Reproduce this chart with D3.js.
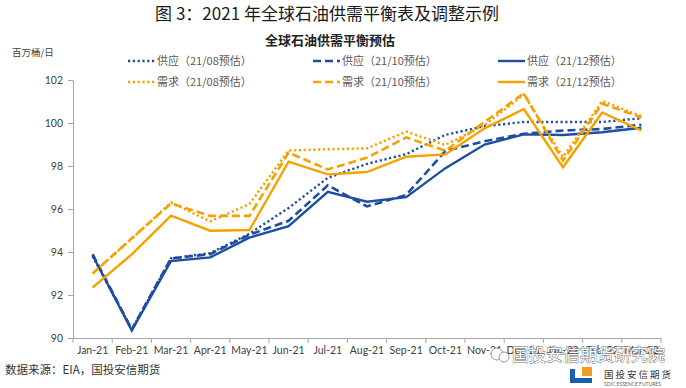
<!DOCTYPE html>
<html>
<head>
<meta charset="utf-8">
<script src="https://cdn.jsdelivr.net/npm/d3@7"></script>
<style>
  body { margin: 0; background: #fff; }
  svg { display: block; }
  .axis text { font-family: Lato, "Noto Sans CJK SC", sans-serif; font-size: 10.5px; fill: #404040; }
  .axis path, .axis line { stroke: #a6a6a6; }
</style>
</head>
<body>
<div id="chart"></div>
<script>
// categories and series (百万桶/日)
const months = ["Jan-21", "Feb-21", "Mar-21", "Apr-21", "May-21", "Jun-21", "Jul-21", "Aug-21",
    "Sep-21", "Oct-21", "Nov-21", "Dec-21", "Jan-22", "Feb-22", "Mar-22"];

const supply08 = [93.8, 90.4, 93.7, 93.95, 94.85, 96.05, 97.45, 98.1, 98.55, 99.45, 99.85, 100.05, 100.05, 100.05, 100.22];
const supply10 = [93.9, 90.4, 93.7, 93.9, 94.8, 95.45, 97.1, 96.12, 96.65, 98.7, 99.15, 99.5, 99.65, 99.72, 99.92];
const supply12 = [93.85, 90.35, 93.58, 93.75, 94.67, 95.2, 96.8, 96.34, 96.55, 97.9, 99.0, 99.47, 99.44, 99.57, 99.78];
const demand08 = [93.0, 94.62, 96.3, 95.42, 96.23, 98.72, 98.78, 98.82, 99.6, 98.98, 99.9, 101.32, 98.42, 101.02, 100.32];
const demand10 = [93.0, 94.64, 96.26, 95.68, 95.68, 98.62, 97.84, 98.39, 99.33, 98.71, 100.05, 101.38, 98.25, 100.9, 100.26];
const demand12 = [92.35, 93.89, 95.69, 94.99, 95.02, 98.2, 97.61, 97.72, 98.43, 98.54, 99.75, 100.65, 97.94, 100.49, 99.65];

const yTicks = [90, 92, 94, 96, 98, 100, 102];

const seriesList = [
    {name: "供应（21/08预估）", values: supply08, color: "#1f4e9f", dash: "2.2,2.6", width: 2.4},
    {name: "供应（21/10预估）", values: supply10, color: "#1f4e9f", dash: "8,4", width: 2.6},
    {name: "供应（21/12预估）", values: supply12, color: "#1f4e9f", dash: null, width: 2.4},
    {name: "需求（21/08预估）", values: demand08, color: "#f5a100", dash: "2.2,2.6", width: 2.4},
    {name: "需求（21/10预估）", values: demand10, color: "#f5a100", dash: "8,4", width: 2.6},
    {name: "需求（21/12预估）", values: demand12, color: "#f5a100", dash: null, width: 2.4}
];

const W = 686, H = 388;
const svg = d3.select("#chart").append("svg")
    .attr("width", W)
    .attr("height", H);

// scales
const x = d3.scaleBand().domain(months).range([73, 661]).padding(0);
const y = d3.scaleLinear().domain([90, 102]).range([338, 80]);

// titles
svg.append("text")
    .attr("x", 327).attr("y", 20)
    .attr("text-anchor", "middle")
    .style("font-family", "\"Noto Sans CJK SC\", sans-serif")
    .style("font-size", "17px")
    .style("fill", "#1a1a1a")
    .text("图 3：2021 年全球石油供需平衡表及调整示例");

svg.append("text")
    .attr("x", 330).attr("y", 45)
    .attr("text-anchor", "middle")
    .style("font-family", "\"Noto Sans CJK SC\", sans-serif")
    .style("font-size", "13px")
    .style("font-weight", "bold")
    .style("fill", "#222")
    .text("全球石油供需平衡预估");

svg.append("text")
    .attr("x", 12).attr("y", 56)
    .style("font-family", "\"Noto Sans CJK SC\", sans-serif")
    .style("font-size", "9.5px")
    .style("fill", "#404040")
    .text("百万桶/日");

// axes
const yAxis = d3.axisLeft(y).tickValues(yTicks).tickSize(5).tickSizeOuter(0).tickPadding(5);
svg.append("g")
    .attr("class", "axis")
    .attr("transform", "translate(73,0)")
    .call(yAxis);

const xAxis = d3.axisBottom(x).tickSize(0).tickSizeOuter(0).tickPadding(9);
const gx = svg.append("g")
    .attr("class", "axis")
    .attr("transform", "translate(0,338)")
    .call(xAxis);

// tick marks between categories
const bounds = months.map(m => x(m)).concat([x.range()[1]]);
gx.selectAll(".bound")
    .data(bounds)
    .enter().append("line")
    .attr("class", "bound")
    .attr("x1", d => d).attr("x2", d => d)
    .attr("y1", 0).attr("y2", 5)
    .attr("stroke", "#a6a6a6");

// lines
const line = d3.line()
    .x((d, i) => x(months[i]) + x.bandwidth() / 2)
    .y(d => y(d));

svg.append("g").selectAll("path")
    .data(seriesList)
    .enter().append("path")
    .attr("d", d => line(d.values))
    .attr("fill", "none")
    .attr("stroke", d => d.color)
    .attr("stroke-width", d => d.width)
    .attr("stroke-dasharray", d => d.dash)
    .attr("stroke-linejoin", "miter");

// legend
const legX = [128, 313, 498];
const legY = [61, 82];
const leg = svg.append("g").selectAll("g")
    .data(seriesList)
    .enter().append("g")
    .attr("transform", (d, i) => `translate(${legX[i % 3]},${legY[Math.floor(i / 3)]})`);

leg.append("line")
    .attr("x1", 0).attr("x2", 27)
    .attr("y1", 0).attr("y2", 0)
    .attr("stroke", d => d.color)
    .attr("stroke-width", d => d.width)
    .attr("stroke-dasharray", d => d.dash);

leg.append("text")
    .attr("x", 29).attr("y", 4)
    .style("font-family", "\"Noto Sans CJK SC\", sans-serif")
    .style("font-size", "11px")
    .style("fill", "#595959")
    .text(d => d.name);

// source note
svg.append("text")
    .attr("x", 5).attr("y", 374)
    .style("font-family", "\"Noto Sans CJK SC\", sans-serif")
    .style("font-size", "11.5px")
    .style("fill", "#333")
    .text("数据来源：EIA，国投安信期货");

// watermark
const wm = svg.append("g");
wm.append("circle").attr("cx", 497).attr("cy", 354).attr("r", 6)
    .attr("fill", "#fff").attr("stroke", "#999").attr("stroke-width", 1);
wm.append("circle").attr("cx", 504).attr("cy", 357).attr("r", 5)
    .attr("fill", "#fff").attr("stroke", "#999").attr("stroke-width", 1);
wm.append("text")
    .attr("x", 512).attr("y", 361)
    .style("font-family", "\"Noto Sans CJK SC\", sans-serif")
    .style("font-size", "17px")
    .style("fill", "#fff")
    .style("stroke", "#666")
    .style("stroke-width", 0.9)
    .style("paint-order", "stroke")
    .text("国投安信期货研究院");

// logo
const logo = svg.append("g");
logo.append("rect").attr("x", 570).attr("y", 369).attr("width", 22).attr("height", 14).attr("fill", "#1660b0");
logo.append("rect").attr("x", 575).attr("y", 369).attr("width", 17).attr("height", 9).attr("fill", "#fff");
logo.append("rect").attr("x", 582).attr("y", 367).attr("width", 10).attr("height", 9).attr("fill", "#f0a020");
logo.append("text")
    .attr("x", 604).attr("y", 378)
    .style("font-family", "\"Noto Sans CJK SC\", sans-serif")
    .style("font-size", "9.5px")
    .style("fill", "#333")
    .style("letter-spacing", "2px")
    .text("国投安信期货");
logo.append("text")
    .attr("x", 604).attr("y", 386)
    .style("font-family", "Lato, sans-serif")
    .style("font-size", "5px")
    .style("fill", "#666")
    .text("SDIC ESSENCE FUTURES");
</script>
</body>
</html>
